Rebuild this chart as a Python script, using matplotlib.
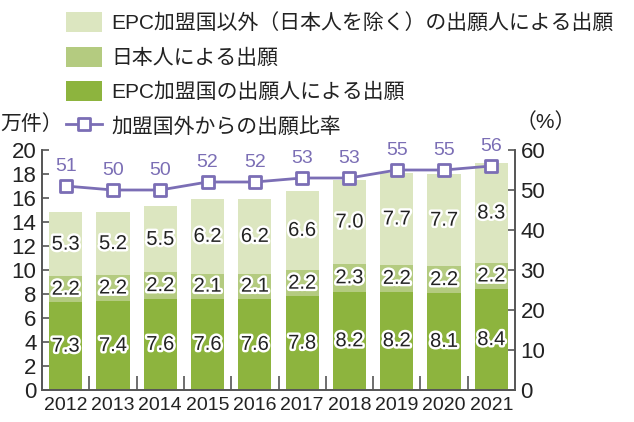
# EPC出願件数の推移（積み上げ棒＋比率の折れ線）
import matplotlib
matplotlib.use("Agg")
import matplotlib.pyplot as plt
import matplotlib.patheffects as pe
from matplotlib import font_manager
from matplotlib.markers import MarkerStyle
import numpy as np

# data
years = ["2012", "2013", "2014", "2015", "2016",
         "2017", "2018", "2019", "2020", "2021"]
epc_members = [7.3, 7.4, 7.6, 7.6, 7.6, 7.8, 8.2, 8.2, 8.1, 8.4]
japanese = [2.2, 2.2, 2.2, 2.1, 2.1, 2.2, 2.3, 2.2, 2.2, 2.2]
non_members = [5.3, 5.2, 5.5, 6.2, 6.2, 6.6, 7.0, 7.7, 7.7, 8.3]
foreign_ratio = [51, 50, 50, 52, 52, 53, 53, 55, 55, 56]

legend_labels = ["EPC加盟国以外（日本人を除く）の出願人による出願",
                 "日本人による出願",
                 "EPC加盟国の出願人による出願",
                 "加盟国外からの出願比率"]

# colours
DARK = "#8db43e"
MID = "#b4cb80"
LIGHT = "#dce6c0"
PURPLE = "#7b6eb5"
AXIS = "#555555"
TEXT = "#222222"

names = {f.name for f in font_manager.fontManager.ttflist}
latin = "Liberation Sans Narrow" if "Liberation Sans Narrow" in names else "Liberation Sans"
plt.rcParams["font.family"] = [latin, "Noto Sans CJK JP"]
plt.rcParams["text.color"] = TEXT

fig = plt.figure(figsize=(6.34, 4.22), dpi=100)
ax = fig.add_axes([42 / 634, 1 - 390 / 422, 473 / 634, 240 / 422])
ax2 = ax.twinx()

x = np.arange(len(years))
w = 0.7
b1 = ax.bar(x, epc_members, w, color=DARK)
bottom2 = np.array(epc_members)
b2 = ax.bar(x, japanese, w, bottom=bottom2, color=MID)
bottom3 = bottom2 + np.array(japanese)
b3 = ax.bar(x, non_members, w, bottom=bottom3, color=LIGHT)

stroke = [pe.withStroke(linewidth=3.5, foreground="white")]
for bars, vals in [(b1, epc_members), (b2, japanese), (b3, non_members)]:
    ax.bar_label(bars, labels=[f"{v:.1f}" for v in vals], label_type="center",
                 fontsize=14.5, color=TEXT, path_effects=stroke)

marker = MarkerStyle("s", joinstyle="round")
line, = ax2.plot(x, foreign_ratio, color=PURPLE, lw=2, marker=marker,
                 markersize=8.5, markerfacecolor="white",
                 markeredgecolor=PURPLE, markeredgewidth=2)
for xi, v in zip(x, foreign_ratio):
    ax2.annotate(str(v), (xi, v), xytext=(0, 8), textcoords="offset points",
                 ha="center", va="bottom", fontsize=14, color=PURPLE)

# axes
ax.set_xlim(-0.5, len(years) - 0.5)
ax.set_ylim(0, 20)
ax2.set_ylim(0, 60)
ax.set_yticks(range(0, 21, 2))
ax2.set_yticks(range(0, 61, 10))
ax.set_xticks(x)
ax.set_xticklabels(years)
ax.set_xticks(x[:-1] + 0.5, minor=True)

for a in (ax, ax2):
    a.spines["top"].set_visible(False)
    for s in a.spines.values():
        s.set_color(AXIS)
        s.set_linewidth(1.2)
ax.tick_params(axis="y", direction="in", length=5, width=1.2, color=AXIS,
               labelsize=16, pad=4, labelcolor=TEXT)
ax2.tick_params(axis="y", direction="in", length=5, width=1.2, color=AXIS,
                labelsize=16, pad=4, labelcolor=TEXT)
ax.tick_params(axis="x", which="major", length=0, labelsize=14, pad=5,
               labelcolor=TEXT)
ax.tick_params(axis="x", which="minor", direction="in", length=10, width=1.2,
               color=AXIS)

# legend and units
fig.legend([b3, b2, b1, line], legend_labels, loc="upper left",
           bbox_to_anchor=(58 / 634, 1 - 4 / 422), frameon=False,
           fontsize=15, handlelength=1.7, handleheight=1.1,
           handletextpad=0.45, labelspacing=0.64, borderaxespad=0)
fig.text(0, 1 - 124 / 422, "万件）", fontsize=15, va="center", ha="left")
fig.text(516 / 634, 1 - 122 / 422, "（%）", fontsize=15, va="center", ha="left")

fig.savefig("out.png", dpi=100)
